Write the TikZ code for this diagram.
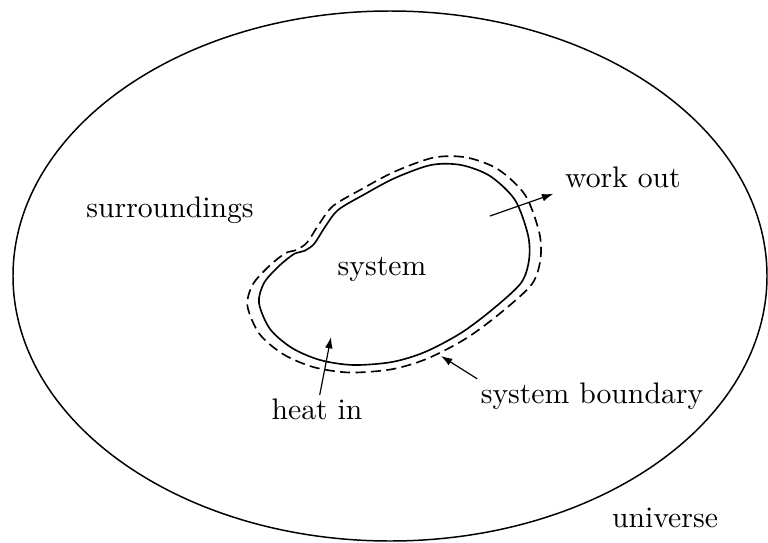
\documentclass[tikz,border=0pt]{standalone}
\usetikzlibrary{arrows.meta}

\tikzset{
	lbl/.style={inner sep=1pt, anchor=base},
	flow/.style={line width=0.4pt, -{Latex[length=3.8pt,width=2.6pt]}},
	wall/.style={line width=0.55pt},
	blob/.pic={
		\draw[pic actions] plot[smooth cycle, tension=0.5] coordinates {
			(-136,38) (-131,18) (-116,1) (-101,-11) (-91,-14) (-81,-21)
			(-70,-38) (-57,-55) (-30,-71) (0,-87) (36,-100) (66,-100)
			(95,-89) (120,-65) (133,-30) (134,-5) (126,18)
			(98,44) (66,68) (30,87) (-3,97) (-42,100) (-75,95) (-103,83) (-125,64)};
	}
}

\begin{document}
\begin{tikzpicture}[x=0.3367pt, y=-0.3367pt]
	\useasboundingbox (0,0) rectangle (768,542);
	% the universe
	\draw[line width=0.5pt] (390,276) ellipse [x radius=377, y radius=265];
	% system and its boundary
	\pic[wall] at (395,265) {blob};
	\pic[wall, dash pattern=on 3.4pt off 1.8pt, xscale=1.085, yscale=1.075] at (395,265) {blob};
	% labels
	\node[lbl] (surr) at (170,217) {surroundings};
	\node[lbl] (sys) at (382,275) {system};
	\node[lbl] (work) at (623,187) {work out};
	\node[lbl] (heat) at (317,419) {heat in};
	\node[lbl] (bound) at (592,403) {system boundary};
	\node[lbl] (univ) at (665,527) {universe};
	% arrows
	\coordinate (workstart) at (490,216);
	\coordinate (heattip) at (331,337);
	\coordinate (boundtip) at (441,356);
	\draw[flow, shorten >=3pt] (workstart) -- (work.south west);
	\draw[flow] (heat) -- (heattip);
	\draw[flow] (bound.north west) -- (boundtip);
\end{tikzpicture}
\end{document}
